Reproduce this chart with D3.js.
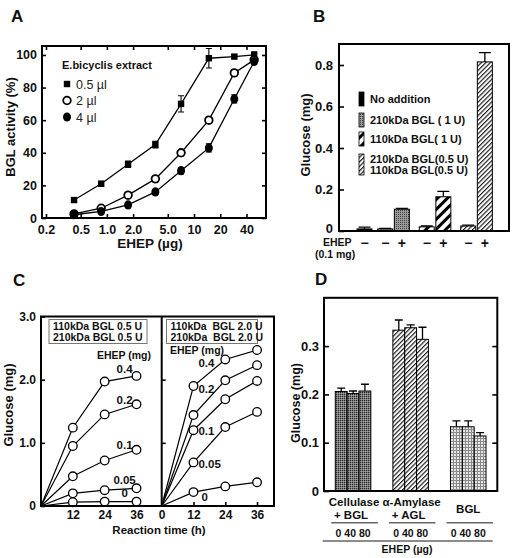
<!DOCTYPE html>
<html><head><meta charset="utf-8">
<script src="https://cdn.jsdelivr.net/npm/d3@7"></script>
<style>
body{margin:0;background:#fff}
svg{display:block}
text{font-family:"Liberation Sans",Arial,Helvetica,sans-serif;font-weight:bold;fill:#111}
</style>
</head><body>
<svg id="chart" width="513" height="558"></svg>
<script>
// ---------- DATA ----------
// Panel A
const aDoses = [0.42, 0.86, 1.75, 3.6, 7.1, 14.8, 29, 49];
const aTickValues = [0.2, 0.5, 1, 2, 5, 10, 20, 40];
const aTickLabels = ["0.2", "0.5", "1.0", "2.0", "5.0", "10", "20", "40"];
const aYTicks = [0, 20, 40, 60, 80, 100];
const aSeriesNames = ["0.5 \u00b5l", "2 \u00b5l", "4 \u00b5l"];
const aAct05 = [11, 21, 33, 45, 70, 98, 99, 100];
const aAct2 = [2.5, 6, 14, 24, 40, 60, 89, 97];
const aAct4 = [2, 4, 8, 16, 29, 43, 73, 96];
const aErr05 = [1, 1.5, 2, 2, 5, 6, 1, 2];
const aErr2 = [1, 1, 1.5, 1.5, 2, 1.5, 2, 1];
const aErr4 = [1, 1, 1.5, 1.5, 2, 2.5, 2.5, 1.5];

// Panel B
const bLegend = ["No addition", "210kDa BGL ( 1 U)", "110kDa BGL( 1 U)", "210kDa BGL(0.5 U)|110kDa BGL(0.5 U)"];
const bEnzyme = [0, 1, 1, 2, 2, 3, 3];
const bEhep = ["\u2212", "\u2212", "+", "\u2212", "+", "\u2212", "+"];
const bValues = [0.01, 0.01, 0.105, 0.02, 0.165, 0.024, 0.815];
const bErr = [0.009, 0.003, 0.004, 0.004, 0.026, 0.004, 0.045];
const bYTicks = [0, 0.2, 0.4, 0.6, 0.8];

// Panel C
const cTimes = [0, 12, 24, 36];
const cLevels = ["0.4", "0.2", "0.1", "0.05", "0"];
const cLeft = [
  [0, 1.24, 1.97, 2.06],
  [0, 0.95, 1.45, 1.61],
  [0, 0.47, 0.72, 0.89],
  [0, 0.20, 0.25, 0.28],
  [0, 0.06, 0.07, 0.07]
];
const cRight = [
  [0, 1.90, 2.32, 2.47],
  [0, 1.44, 1.99, 2.23],
  [0, 1.20, 1.69, 1.98],
  [0, 0.69, 1.25, 1.49],
  [0, 0.22, 0.31, 0.375]
];
const cLeftBox = ["110kDa BGL 0.5 U", "210kDa BGL 0.5 U"];
const cRightBox = ["110kDa\u00a0 BGL 2.0 U", "210kDa\u00a0 BGL 2.0 U"];
const cYTicks = [0, 1, 2, 3];

// Panel D
const dGroups = ["Cellulase|+ BGL", "\u03b1-Amylase|+ AGL", "BGL"];
const dDoses = ["0", "40", "80"];
const dValues = [[0.206, 0.202, 0.207], [0.333, 0.338, 0.314], [0.133, 0.133, 0.114]];
const dErr = [[0.007, 0.005, 0.014], [0.021, 0.006, 0.025], [0.012, 0.012, 0.007]];
const dYTicks = [0, 0.1, 0.2, 0.3];

// ---------- HELPERS ----------
const svg = d3.select("#chart");
function txt(x, y, s, size, o = {}) {
  const t = svg.append("text").text(s).style("font-size", size + "px");
  if (o.rotate) t.attr("transform", `translate(${x},${y}) rotate(-90)`);
  else t.attr("x", x).attr("y", y);
  t.attr("text-anchor", o.anchor || "start");
  if (o.weight) t.style("font-weight", o.weight);
  if (o.fill) t.style("fill", o.fill);
  return t;
}
function styleAxis(sel, size) {
  sel.select(".domain").remove();
  sel.selectAll(".tick line").attr("stroke", "#000").attr("stroke-width", 1.6);
  sel.selectAll(".tick text").style("font-size", size + "px").style("fill", "#111");
  return sel;
}
function frame(x0, y0, x1, y1) {
  svg.append("rect").attr("x", x0).attr("y", y0).attr("width", x1 - x0).attr("height", y1 - y0)
    .attr("fill", "none").attr("stroke", "#000").attr("stroke-width", 2);
}

// patterns
const defs = svg.append("defs");
function pattern(id, w, h, rot) {
  const p = defs.append("pattern").attr("id", id).attr("patternUnits", "userSpaceOnUse")
    .attr("width", w).attr("height", h);
  if (rot) p.attr("patternTransform", `rotate(${rot})`);
  return p;
}
let p = pattern("stipMid", 2, 2);
p.append("rect").attr("width", 2).attr("height", 2).attr("fill", "#9a9a9a");
p.append("rect").attr("width", 1).attr("height", 1).attr("fill", "#404040");
p = pattern("stipDark", 2, 2);
p.append("rect").attr("width", 2).attr("height", 2).attr("fill", "#7a7a7a");
p.append("rect").attr("width", 1).attr("height", 1).attr("fill", "#2a2a2a");
p.append("rect").attr("x", 1).attr("y", 1).attr("width", 1).attr("height", 1).attr("fill", "#a8a8a8");
p = pattern("thick", 7, 7, 45);
p.append("rect").attr("width", 7).attr("height", 7).attr("fill", "#fff");
p.append("rect").attr("width", 3).attr("height", 7).attr("fill", "#000");
p = pattern("fine", 3.2, 3.2, 45);
p.append("rect").attr("width", 3.2).attr("height", 3.2).attr("fill", "#fff");
p.append("rect").attr("width", 1.2).attr("height", 3.2).attr("fill", "#222");
p = pattern("grid", 3, 3);
p.append("rect").attr("width", 3).attr("height", 3).attr("fill", "#e6e6e6");
p.append("rect").attr("width", 3).attr("height", 1).attr("fill", "#8a8a8a");
p.append("rect").attr("width", 1).attr("height", 3).attr("fill", "#8a8a8a");

// ---------- PANEL A ----------
const xA = d3.scaleLog().domain([0.18, 67]).range([42, 266]);
const yA = d3.scaleLinear().domain([0, 105.5]).range([218, 46]);
txt(11, 22, "A", 17);
styleAxis(svg.append("g").attr("transform", "translate(42,0)")
  .call(d3.axisLeft(yA).tickValues(aYTicks).tickSize(-4).tickSizeOuter(0).tickPadding(5)), 12.5);
styleAxis(svg.append("g").attr("transform", "translate(266,0)")
  .call(d3.axisRight(yA).tickValues(aYTicks).tickSize(-4).tickSizeOuter(0).tickFormat("")), 12);
styleAxis(svg.append("g").attr("transform", "translate(0,218)")
  .call(d3.axisBottom(xA).tickValues(aTickValues).tickFormat((d, i) => aTickLabels[i])
    .tickSize(-4).tickSizeOuter(0).tickPadding(7)), 12.5);
styleAxis(svg.append("g").attr("transform", "translate(0,46)")
  .call(d3.axisTop(xA).tickValues(aTickValues).tickSize(-4).tickSizeOuter(0).tickFormat("")), 12);
frame(42, 46, 266, 218);
txt(15, 127, "BGL activity (%)", 13, { rotate: true, anchor: "middle" });
txt(150, 248, "EHEP (\u00b5g)", 13.5, { anchor: "middle" });

const aSeries = [aAct05, aAct2, aAct4];
const aErrs = [aErr05, aErr2, aErr4];
const lineA = d3.line().x((d, i) => xA(aDoses[i])).y(d => yA(d));
aSeries.forEach(s => svg.append("path").attr("d", lineA(s)).attr("fill", "none")
  .attr("stroke", "#000").attr("stroke-width", 1.3));
aSeries.forEach((s, k) => s.forEach((v, i) => {
  const x = xA(aDoses[i]), e = aErrs[k][i];
  svg.append("path").attr("d", `M${x},${yA(v - e)}V${yA(v + e)}M${x - 3},${yA(v - e)}h6M${x - 3},${yA(v + e)}h6`)
    .attr("stroke", "#000").attr("stroke-width", 1.1).attr("fill", "none");
}));
function markerA(k, x, y) {
  if (k === 0) svg.append("rect").attr("x", x - 3.2).attr("y", y - 3.2).attr("width", 6.4).attr("height", 6.4).attr("fill", "#000");
  else if (k === 1) svg.append("circle").attr("cx", x).attr("cy", y).attr("r", 3.8).attr("fill", "#fff").attr("stroke", "#000").attr("stroke-width", 1.8);
  else svg.append("ellipse").attr("cx", x).attr("cy", y).attr("rx", 4).attr("ry", 4.6).attr("fill", "#000");
}
aSeries.forEach((s, k) => s.forEach((v, i) => markerA(k, xA(aDoses[i]), yA(v))));
txt(62, 69, "E.bicyclis extract", 11);
aSeriesNames.forEach((n, k) => {
  const y = 84 + k * 16.5;
  markerA(k, 67, y);
  txt(76, y + 4.5, n, 12.5, { weight: "normal", fill: "#222" });
});

// ---------- PANEL B ----------
const yB = d3.scaleLinear().domain([0, 0.9]).range([231, 44.25]);
const xB = d3.scaleLinear().domain([-1.536, 8.705]).range([339, 509]);
const slotB = (grp, plus) => grp === 0 ? 0 : (grp - 1) * 2.5 + 1.25 + plus;
const bFills = ["#000", "url(#stipMid)", "url(#thick)", "url(#fine)"];
txt(313, 22, "B", 17);
styleAxis(svg.append("g").attr("transform", "translate(339,0)")
  .call(d3.axisLeft(yB).tickValues(bYTicks).tickFormat(d => d === 0 ? "0" : d3.format(".1f")(d))
    .tickSize(-5).tickSizeOuter(0).tickPadding(6)), 13);
svg.selectAll("g").filter(function () { return this.getAttribute("transform") === "translate(339,0)"; })
  .selectAll(".tick text").filter(d => d === 0).attr("dy", "0.1em");
txt(310, 135, "Glucose (mg)", 13, { rotate: true, anchor: "middle" });
bValues.forEach((v, i) => {
  const cx = xB(slotB(bEnzyme[i], bEhep[i] === "+" ? 1 : 0));
  svg.append("rect").attr("x", cx - 7.5).attr("y", yB(v)).attr("width", 15).attr("height", yB(0) - yB(v))
    .attr("fill", bFills[bEnzyme[i]]).attr("stroke", "#000").attr("stroke-width", 1);
  const top = yB(v + bErr[i]);
  svg.append("path").attr("d", `M${cx},${yB(v)}V${top}M${cx - 6},${top}h12`)
    .attr("stroke", "#000").attr("stroke-width", 1.3).attr("fill", "none");
  txt(cx, 248, bEhep[i], 14, { anchor: "middle" });
});
frame(339, 44, 509, 231);
txt(323, 246, "EHEP", 10.5);
txt(315, 257.5, "(0.1 mg)", 10.5);
const bLegY = [99, 120, 139, 164.5];
bLegend.forEach((lab, k) => {
  const lines = lab.split("|");
  const h = lines.length === 1 ? 14 : 21;
  svg.append("rect").attr("x", 359).attr("y", bLegY[k] - h / 2).attr("width", 5).attr("height", h)
    .attr("fill", bFills[k]).attr("stroke", "#000").attr("stroke-width", 0.8);
  lines.forEach((l, j) => txt(370, bLegY[k] + 4 + (j - (lines.length - 1) / 2) * 10.5, l, 11));
});

// ---------- PANEL C ----------
const yC = d3.scaleLinear().domain([0, 3]).range([506, 316.5]);
const xCL = d3.scaleLinear().domain([0, 45.5]).range([41, 161.7]);
const xCR = d3.scaleLinear().domain([0, 42.4]).range([161.7, 274]);
txt(13, 286, "C", 17);
styleAxis(svg.append("g").attr("transform", "translate(41,0)")
  .call(d3.axisLeft(yC).tickValues(cYTicks).tickFormat(d => d === 0 ? "0" : d3.format(".1f")(d))
    .tickSize(-4).tickSizeOuter(0).tickPadding(5)), 12);
styleAxis(svg.append("g").attr("transform", "translate(161.7,0)")
  .call(d3.axisRight(yC).tickValues([1, 2]).tickSize(4).tickSizeOuter(0).tickFormat("")), 12);
styleAxis(svg.append("g").attr("transform", "translate(0,506)")
  .call(d3.axisBottom(xCL).tickValues([12, 24, 36]).tickSize(-4).tickSizeOuter(0).tickPadding(4)), 12);
styleAxis(svg.append("g").attr("transform", "translate(0,506)")
  .call(d3.axisBottom(xCR).tickValues([0, 12, 24, 36]).tickSize(-4).tickSizeOuter(0).tickPadding(4)), 12);
txt(13, 405, "Glucose (mg)", 13, { rotate: true, anchor: "middle" });
txt(159, 534, "Reaction time (h)", 11.5, { anchor: "middle" });

function drawC(data, xs) {
  const line = d3.line().x((d, i) => xs(cTimes[i])).y(d => yC(d));
  data.forEach(s => svg.append("path").attr("d", line(s)).attr("fill", "none")
    .attr("stroke", "#000").attr("stroke-width", 1.2));
  data.forEach(s => s.forEach((v, i) => {
    if (i === 0) return;
    svg.append("circle").attr("cx", xs(cTimes[i])).attr("cy", yC(v)).attr("r", 4.3)
      .attr("fill", "#fff").attr("stroke", "#000").attr("stroke-width", 1.3);
  }));
}
drawC(cLeft, xCL);
drawC(cRight, xCR);
frame(41, 316.5, 274, 506);
svg.append("line").attr("x1", 161.7).attr("x2", 161.7).attr("y1", 316.5).attr("y2", 506)
  .attr("stroke", "#000").attr("stroke-width", 2);

function box(x0, x1, lines) {
  svg.append("rect").attr("x", x0).attr("y", 319.5).attr("width", x1 - x0).attr("height", 24)
    .attr("fill", "#fff").attr("stroke", "#777").attr("stroke-width", 1);
  lines.forEach((l, j) => txt(x0 + 4, 330 + j * 11.3, l, 10.5));
}
box(49, 147, cLeftBox);
box(166.5, 257.5, cRightBox);
txt(124, 359, "EHEP (mg)", 10.5, { anchor: "middle" });
txt(170, 354, "EHEP (mg)", 10.5);
// left-panel curve labels: above the 24-36 h segment
cLevels.forEach((lab, k) => {
  const mid = (cLeft[k][2] * 0.42 + cLeft[k][3] * 0.58);
  txt(xCL(30) + 4, yC(mid) - 5, lab, 11.5, { anchor: "middle" });
});
// right-panel curve labels: beside the 12 h points
const cRightLabOff = [-19, -22, 5, 5.3, 8.7];
cLevels.forEach((lab, k) => {
  txt(xCR(12) + 5 + (k === 4 ? 3 : 0), yC(cRight[k][1]) + cRightLabOff[k], lab, 11.5);
});

// ---------- PANEL D ----------
const yD = d3.scaleLinear().domain([0, 0.4]).range([491, 297.8]);
const xD = d3.scaleBand().domain(dGroups).range([324, 497.3]).paddingInner(0.383).paddingOuter(0.196);
const xDi = d3.scaleBand().domain(dDoses).range([0, xD.bandwidth()]);
const dFills = ["url(#stipDark)", "url(#fine)", "url(#grid)"];
txt(315, 285, "D", 17);
styleAxis(svg.append("g").attr("transform", "translate(324,0)")
  .call(d3.axisLeft(yD).tickValues(dYTicks).tickFormat(d => d === 0 ? "0" : d3.format(".1f")(d))
    .tickSize(-5).tickSizeOuter(0).tickPadding(5)), 13);
styleAxis(svg.append("g").attr("transform", "translate(497.3,0)")
  .call(d3.axisRight(yD).tickValues([0.1, 0.2, 0.3]).tickSize(-5).tickSizeOuter(0).tickFormat("")), 12);
txt(300, 403, "Glucose (mg)", 12.5, { rotate: true, anchor: "middle" });
dGroups.forEach((gname, gi) => {
  const x0 = xD(gname);
  dValues[gi].forEach((v, j) => {
    const bx = x0 + xDi(dDoses[j]), bw = xDi.bandwidth();
    svg.append("rect").attr("x", bx).attr("y", yD(v)).attr("width", bw).attr("height", yD(0) - yD(v))
      .attr("fill", dFills[gi]).attr("stroke", "#000").attr("stroke-width", 1);
    const cx = bx + bw / 2, top = yD(v + dErr[gi][j]);
    svg.append("path").attr("d", `M${cx},${yD(v)}V${top}M${cx - 4},${top}h8`)
      .attr("stroke", "#000").attr("stroke-width", 1.3).attr("fill", "none");
  });
  const c = x0 + xD.bandwidth() / 2;
  const lines = gname.split("|");
  if (lines.length === 2) { txt(c + 1, 506, lines[0], 11.5, { anchor: "middle" }); txt(c - 2, 519, lines[1], 11.5, { anchor: "middle" }); }
  else txt(c, 513, lines[0], 11.5, { anchor: "middle" });
  svg.append("line").attr("x1", x0 - 4).attr("x2", x0 + xD.bandwidth() + 7).attr("y1", 522.7).attr("y2", 522.7)
    .attr("stroke", "#666").attr("stroke-width", 1.6);
  txt(c, 537, dDoses.join(" "), 10.5, { anchor: "middle" });
});
frame(324, 297.8, 497.3, 491);
svg.append("line").attr("x1", 322.7).attr("x2", 492.7).attr("y1", 541).attr("y2", 541)
  .attr("stroke", "#666").attr("stroke-width", 1.6);
txt(407, 553, "EHEP (\u00b5g)", 10.5, { anchor: "middle" });
</script>
</body></html>
